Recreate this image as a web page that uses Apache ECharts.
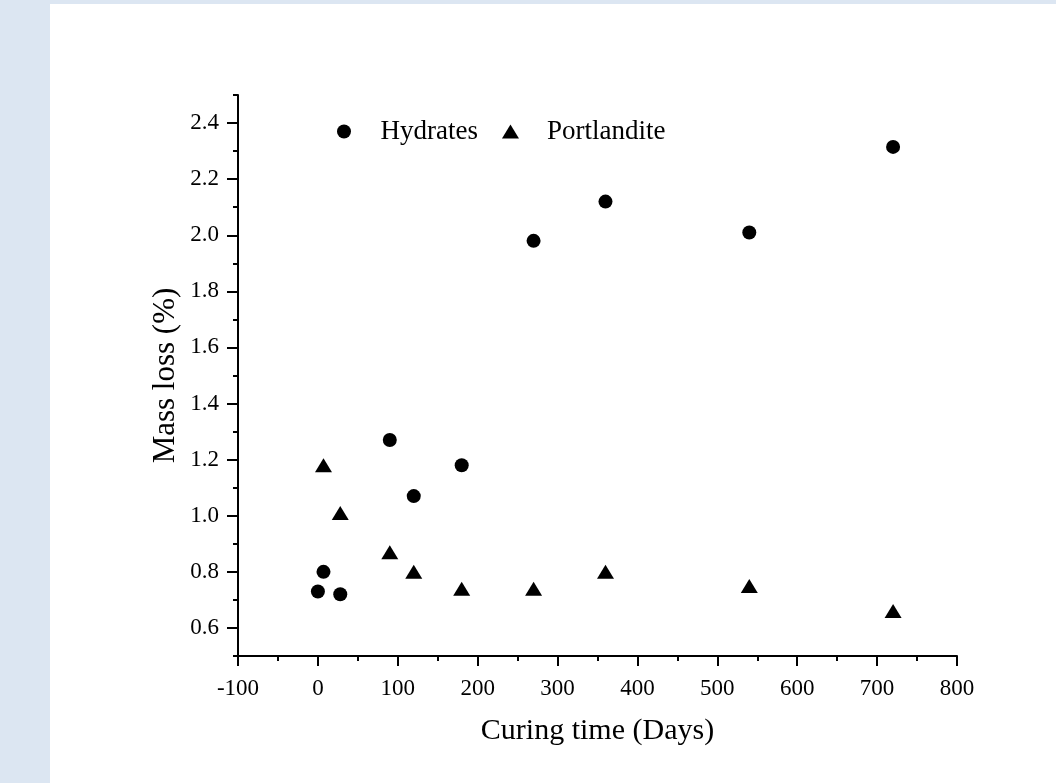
<!DOCTYPE html>
<html>
<head>
<meta charset="utf-8">
<script src="https://cdn.jsdelivr.net/npm/echarts@6/dist/echarts.min.js"></script>
<style>
html,body{margin:0;padding:0;background:#dce6f2;}
#wrap{position:absolute;left:50px;top:4px;width:1006px;height:779px;background:#fff;}
#chart{position:absolute;left:0;top:0;width:1056px;height:783px;}
</style>
</head>
<body>
<div id="wrap"></div>
<div id="chart"></div>
<script>
const days = [0, 7, 28, 90, 120, 180, 270, 360, 540, 720];
const hydrates = [0.73, 0.80, 0.72, 1.27, 1.07, 1.18, 1.98, 2.12, 2.01, 2.315];
const portDays = [7, 28, 90, 120, 180, 270, 360, 540, 720];
const portlandite = [1.18, 1.01, 0.87, 0.80, 0.74, 0.74, 0.80, 0.75, 0.66];
const yMajorTicks = [0.6, 0.8, 1.0, 1.2, 1.4, 1.6, 1.8, 2.0, 2.2, 2.4];
const seriesNames = ['Hydrates', 'Portlandite'];
const xTitle = 'Curing time (Days)';
const yTitle = 'Mass loss (%)';

const FONT = '"Liberation Serif", "Times New Roman", serif';
const chart = echarts.init(document.getElementById('chart'), null, {renderer: 'canvas'});
const axisLine = {show: true, onZero: false, lineStyle: {color: '#000', width: 2}};

chart.setOption({
  backgroundColor: 'transparent',
  animation: false,
  grid: {left: 238, right: 99, top: 95, bottom: 127},
  legend: {
    left: 332, top: 113,
    itemWidth: 17, itemHeight: 14, itemGap: 24,
    textStyle: {fontFamily: FONT, fontSize: 27, color: '#000', padding: [0, 0, 0, 23]},
    data: [{name: seriesNames[0], icon: 'circle'}, {name: seriesNames[1], icon: 'triangle'}]
  },
  xAxis: {
    type: 'value', min: -100, max: 800, interval: 100,
    name: xTitle, nameLocation: 'middle', nameGap: 60,
    nameTextStyle: {fontFamily: FONT, fontSize: 30, color: '#000'},
    axisLine: axisLine,
    axisTick: {show: true, inside: false, length: 10, lineStyle: {color: '#000', width: 2}},
    minorTick: {show: true, splitNumber: 2, length: 5, lineStyle: {color: '#000', width: 2}},
    axisLabel: {fontFamily: FONT, fontSize: 23, color: '#000', margin: 21},
    splitLine: {show: false}
  },
  yAxis: [{
    type: 'value', min: 0.5, max: 2.5, interval: 0.1,
    name: yTitle, nameLocation: 'middle', nameGap: 57, nameMoveOverlap: false,
    nameTextStyle: {fontFamily: FONT, fontSize: 31, color: '#000'},
    axisLine: axisLine,
    axisTick: {show: true, inside: false, length: 5, lineStyle: {color: '#000', width: 2}},
    axisLabel: {fontFamily: FONT, fontSize: 23, color: '#000', margin: 19,
      customValues: yMajorTicks, formatter: v => v.toFixed(1)},
    splitLine: {show: false}
  }, {
    type: 'value', min: 0.5, max: 2.5, position: 'left',
    axisLine: {show: false, onZero: false},
    axisTick: {show: true, inside: false, length: 11, customValues: yMajorTicks, lineStyle: {color: '#000', width: 2}},
    axisLabel: {show: false},
    splitLine: {show: false}
  }],
  series: [{
    name: seriesNames[0], type: 'scatter', symbol: 'circle', symbolSize: 14,
    itemStyle: {color: '#000', opacity: 1},
    data: days.map((d, i) => [d, hydrates[i]])
  }, {
    name: seriesNames[1], type: 'scatter', symbol: 'triangle', symbolSize: [17, 14],
    itemStyle: {color: '#000', opacity: 1},
    data: portDays.map((d, i) => [d, portlandite[i]])
  }]
});
</script>
</body>
</html>
